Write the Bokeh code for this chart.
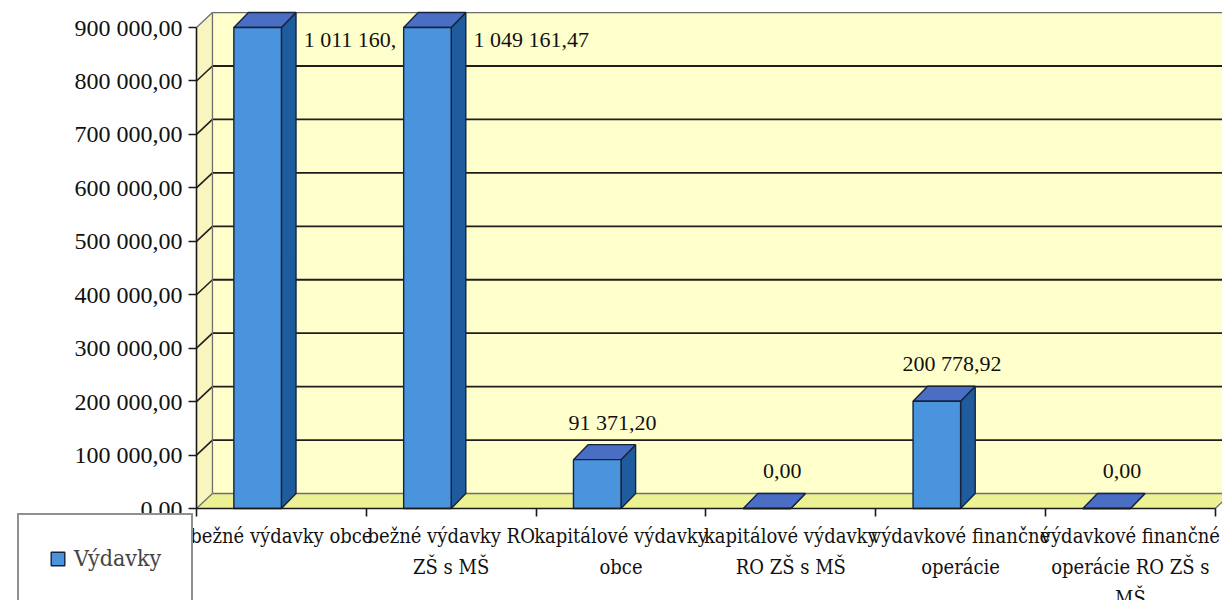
from bokeh.plotting import figure
from bokeh.models import Range1d, LinearAxis, FixedTicker, Legend, LegendItem
from bokeh.core.properties import value
from bokeh.embed import file_html
from bokeh.resources import INLINE

# ---------------- data ----------------
categories = [
    "bežné výdavky obce",
    "bežné výdavky RO ZŠ s MŠ",
    "kapitálové výdavky obce",
    "kapitálové výdavky RO ZŠ s MŠ",
    "výdavkové finančné operácie",
    "výdavkové finančné operácie RO ZŠ s MŠ",
]
category_labels = [
    "bežné výdavky obce",
    "bežné výdavky RO\nZŠ s MŠ",
    "kapitálové výdavky\nobce",
    "kapitálové výdavky\nRO ZŠ s MŠ",
    "výdavkové finančné\noperácie",
    "výdavkové finančné\noperácie RO ZŠ s\nMŠ",
]
values = [1011160.0, 1049161.47, 91371.20, 0.0, 200778.92, 0.0]
value_labels = ["1 011 160,", "1 049 161,47", "91 371,20", "0,00", "200 778,92", "0,00"]
y_ticks = [0, 100000, 200000, 300000, 400000, 500000, 600000, 700000, 800000, 900000]
y_tick_labels = ["0,00", "100 000,00", "200 000,00", "300 000,00", "400 000,00",
                 "500 000,00", "600 000,00", "700 000,00", "800 000,00", "900 000,00"]
series_name = "Výdavky"

# ---------------- style / geometry ----------------
Y_MAX = y_ticks[-1]
n = len(categories)
W_DX, W_DY = 0.094, 28070      # depth of walls (data units)
B_DX, B_DY = 0.086, 28070      # depth of bars
B_L, B_R = 0.22, 0.50          # bar front face inside category
X_END = n + W_DX + 0.3
FONT_NUM = "Times New Roman"                          # ASCII texts
FONT_TXT = "DejaVu Serif Condensed, DejaVu Serif"     # texts with diacritics

p = figure(width=1222, height=600,
           x_range=Range1d(-1.1543, 6.0424), y_range=Range1d(-172150, 950600),
           output_backend="svg", toolbar_location=None,
           x_axis_type=None, y_axis_type=None, min_border=0,
           outline_line_color=None, background_fill_color="white",
           border_fill_color="white")

# walls and floor
p.patch([0, W_DX, W_DX, 0], [0, W_DY, Y_MAX + W_DY, Y_MAX],
        fill_color="#F8F6BE", line_color=None)
p.quad(left=W_DX, right=X_END, bottom=W_DY, top=Y_MAX + W_DY,
       fill_color="#FFFFCC", line_color=None)
p.patch([0, W_DX, n + W_DX, n], [0, W_DY, W_DY, 0],
        fill_color="#ECF194", line_color=None)

# grid lines on back wall and left wall
inner = y_ticks[1:-1]
p.segment(x0=[W_DX] * len(inner), x1=[X_END] * len(inner),
          y0=[t + W_DY for t in inner], y1=[t + W_DY for t in inner],
          line_color="#1E1E1E", line_width=1.8)
p.segment(x0=[0] * len(inner), x1=[W_DX] * len(inner),
          y0=inner, y1=[t + W_DY for t in inner],
          line_color="#1E1E1E", line_width=1.6)
p.segment(x0=[W_DX, 0, W_DX, 0, W_DX, n], x1=[X_END, W_DX, X_END, W_DX, W_DX, n + W_DX],
          y0=[Y_MAX + W_DY, Y_MAX, W_DY, 0, W_DY, 0],
          y1=[Y_MAX + W_DY, Y_MAX + W_DY, W_DY, W_DY, Y_MAX + W_DY, W_DY],
          line_color="#6E6E6E", line_width=1.3)

# value labels (drawn before bars so a following bar hides overflow)
lab_lx, lab_ly, lab_lt = [], [], []
lab_cx, lab_cy, lab_ct = [], [], []
for i, (v, t) in enumerate(zip(values, value_labels)):
    if v > Y_MAX:
        lab_lx.append(i + B_R + B_DX + 0.045)
        lab_ly.append(Y_MAX - 22000)
        lab_lt.append(t)
    else:
        lab_cx.append(i + 0.45)
        lab_cy.append(v + 70000)
        lab_ct.append(t)
p.text(x=lab_lx, y=lab_ly, text=lab_lt, text_font=value(FONT_NUM), text_font_size="22px",
       text_align="left", text_baseline="middle", text_color="#111111")
p.text(x=lab_cx, y=lab_cy, text=lab_ct, text_font=value(FONT_NUM), text_font_size="22px",
       text_align="center", text_baseline="middle", text_color="#111111")

# 3D bars
heights = [min(v, Y_MAX) for v in values]
side_xs, side_ys, top_xs, top_ys = [], [], [], []
for i, h in enumerate(heights):
    l, r = i + B_L, i + B_R
    side_xs.append([r, r + B_DX, r + B_DX, r])
    side_ys.append([0, B_DY, h + B_DY, h])
    top_xs.append([l, l + B_DX, r + B_DX, r])
    top_ys.append([h, h + B_DY, h + B_DY, h])
p.patches(side_xs, side_ys, fill_color="#1F5C9E", line_color="#16233A", line_width=1.4)
p.patches(top_xs, top_ys, fill_color="#4A6EC4", line_color="#16233A", line_width=1.4)
front = p.quad(left=[i + B_L for i in range(n)], right=[i + B_R for i in range(n)],
               bottom=[0] * n, top=heights,
               fill_color="#4A93DD", line_color="#16233A", line_width=1.4)

# axes
yaxis = LinearAxis(fixed_location=0, bounds=(0, Y_MAX), ticker=FixedTicker(ticks=y_ticks),
                   major_label_overrides={t: s for t, s in zip(y_ticks, y_tick_labels)},
                   major_tick_out=8, major_tick_in=0, minor_tick_out=0, minor_tick_in=0,
                   major_label_standoff=6, axis_line_color="#1A1A1A", axis_line_width=1.6,
                   major_tick_line_color="#1A1A1A", major_tick_line_width=1.6,
                   major_label_text_font=FONT_NUM, major_label_text_font_size="24px",
                   major_label_text_color="#111111")
p.add_layout(yaxis, "left")

xaxis = LinearAxis(fixed_location=0, bounds=(0, n), ticker=FixedTicker(ticks=list(range(n + 1))),
                   major_label_overrides={i: "" for i in range(n + 1)},
                   major_tick_out=8, major_tick_in=0, minor_tick_out=0, minor_tick_in=0,
                   axis_line_color="#1A1A1A", axis_line_width=1.6,
                   major_tick_line_color="#1A1A1A", major_tick_line_width=1.6)
p.add_layout(xaxis, "below")

centers = [i + 0.5 for i in range(n)]
xlab = LinearAxis(fixed_location=0, ticker=FixedTicker(ticks=centers),
                  major_label_overrides={c: s for c, s in zip(centers, category_labels)},
                  major_tick_out=0, major_tick_in=0, minor_tick_out=0, minor_tick_in=0,
                  axis_line_color=None, major_label_standoff=15,
                  major_label_text_font=FONT_TXT, major_label_text_font_size="20px",
                  major_label_text_line_height=1.3,
                  major_label_text_color="#111111")
p.add_layout(xlab, "below")

legend = Legend(items=[LegendItem(label=series_name, renderers=[front])],
                location=(17, -3), padding=30, spacing=0, margin=0,
                glyph_width=17, glyph_height=17, label_standoff=8,
                label_text_font=FONT_TXT, label_text_font_size="23px",
                border_line_color="#222222", border_line_width=2,
                background_fill_color="white", background_fill_alpha=1.0)
p.add_layout(legend)

open("out.html", "w").write(file_html(p, INLINE))
